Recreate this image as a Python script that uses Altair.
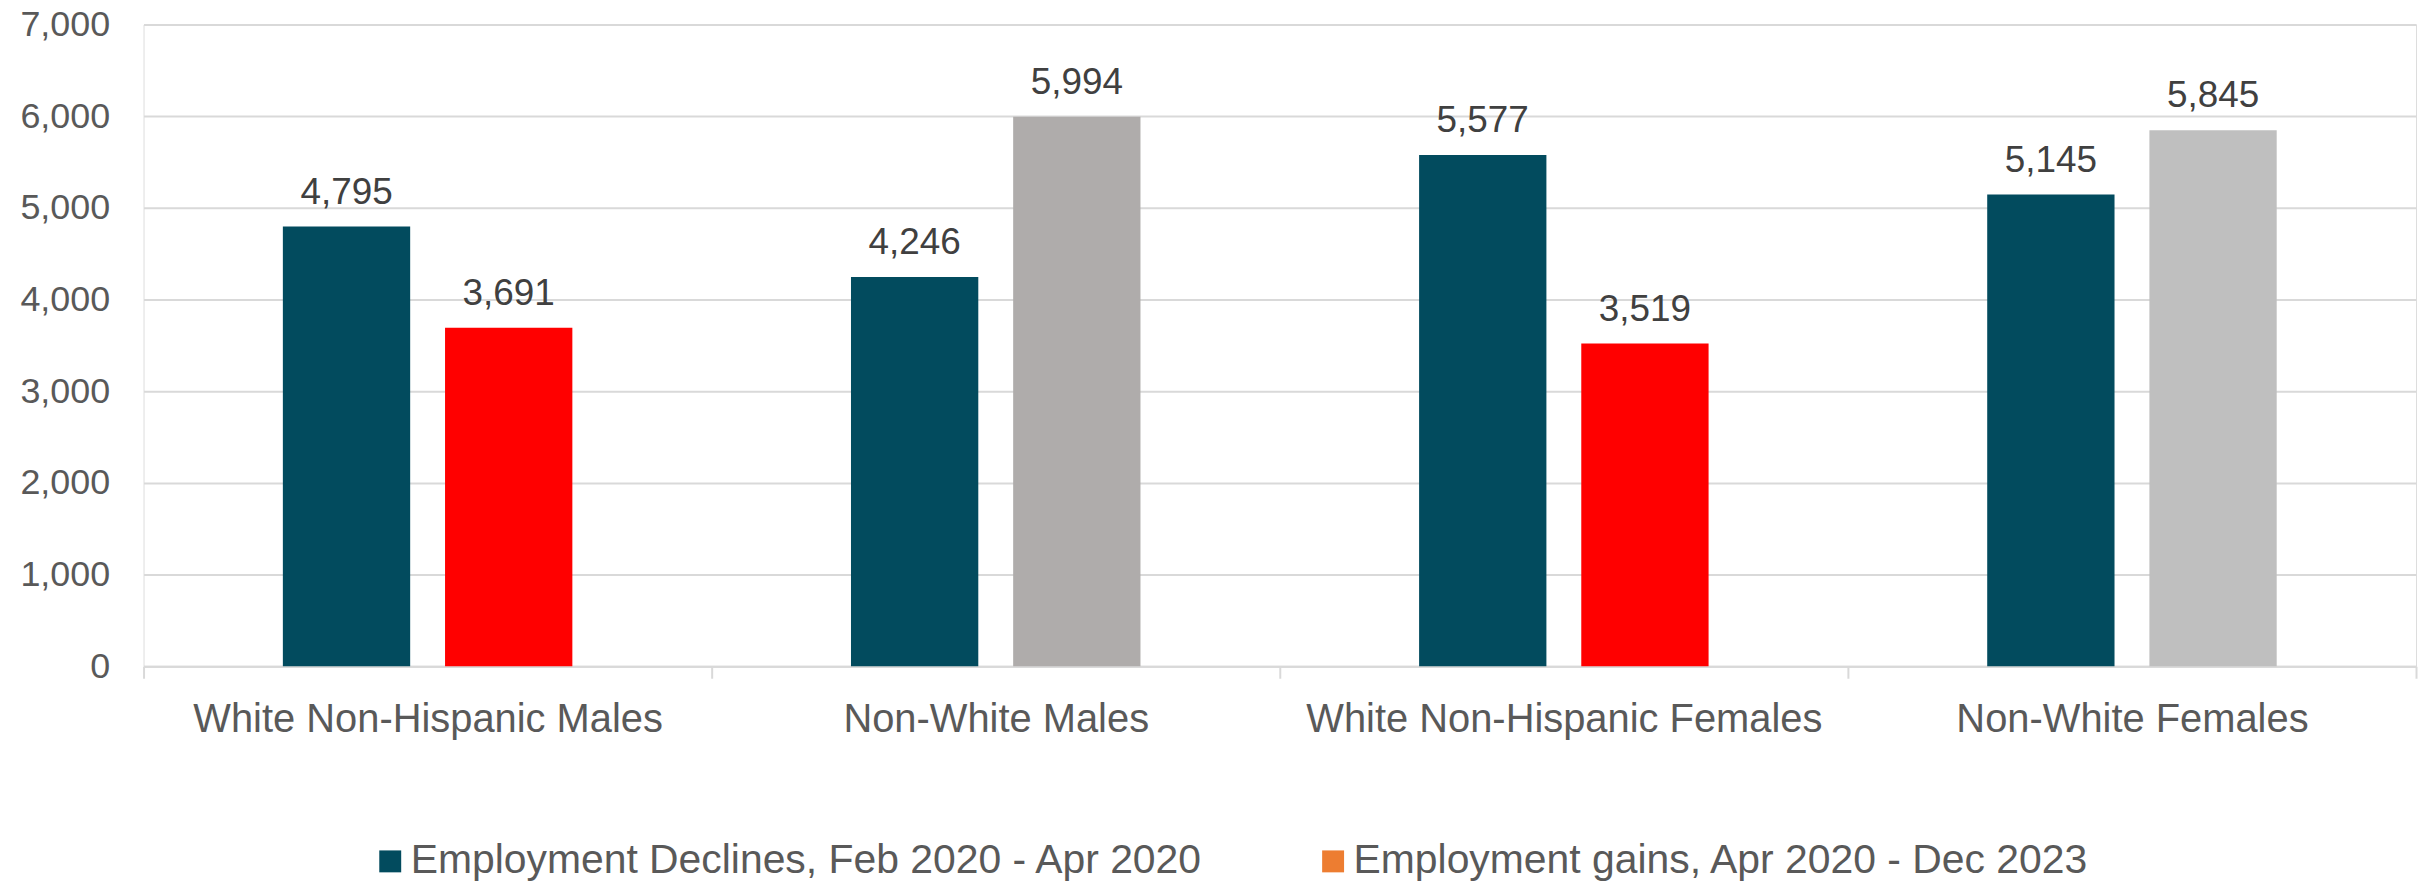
import altair as alt
import pandas as pd

categories = ["White Non-Hispanic Males", "Non-White Males",
              "White Non-Hispanic Females", "Non-White Females"]
declines = [4795, 4246, 5577, 5145]
gains = [3691, 5994, 3519, 5845]
series_names = ["Employment Declines, Feb 2020 - Apr 2020",
                "Employment gains, Apr 2020 - Dec 2023"]
series_colors = ["#024B5E", "#ED7D31"]
decline_bar_colors = ["#024B5E", "#024B5E", "#024B5E", "#024B5E"]
gain_bar_colors = ["#FF0000", "#AFACAB", "#FF0000", "#BFBFBF"]
y_ticks = [0, 1000, 2000, 3000, 4000, 5000, 6000, 7000]

rows = []
for i, c in enumerate(categories):
    rows.append(dict(category=c, series=series_names[0], value=declines[i],
                     bar_color=decline_bar_colors[i]))
    rows.append(dict(category=c, series=series_names[1], value=gains[i],
                     bar_color=gain_bar_colors[i]))
df = pd.DataFrame(rows)

FONT = "Liberation Sans"
GRID = "#D9D9D9"

x_enc = alt.X(
    "category:N", sort=categories,
    scale=alt.Scale(paddingInner=0, paddingOuter=0),
    axis=alt.Axis(title=None, labelAngle=0, tickBand="extent", grid=False,
                  domainColor=GRID, domainWidth=2, tickColor=GRID, tickWidth=2,
                  tickSize=12, labelFont=FONT, labelFontSize=40,
                  labelColor="#595959", labelBaseline="alphabetic",
                  labelPadding=53, labelLimit=1000),
)
xoff_enc = alt.XOffset(
    "series:N", sort=series_names,
    scale=alt.Scale(paddingInner=0.215, paddingOuter=0.859),
)
y_enc = alt.Y(
    "value:Q",
    scale=alt.Scale(domain=[0, 7000], nice=False),
    axis=alt.Axis(title=None, values=y_ticks, format=",.0f", domain=False,
                  ticks=False, grid=True, gridColor=GRID, gridWidth=2,
                  labelFont=FONT, labelFontSize=36, labelColor="#595959",
                  labelPadding=34),
)

legend_layer = alt.Chart(df).mark_bar(opacity=0).encode(
    x=x_enc, xOffset=xoff_enc, y=y_enc,
    color=alt.Color(
        "series:N", sort=series_names,
        scale=alt.Scale(domain=series_names, range=series_colors),
        legend=alt.Legend(
            title=None, orient="none", direction="horizontal", columns=2,
            legendX=227, legendY=819, symbolType="square", symbolSize=484,
            symbolStrokeWidth=0, symbolOpacity=1, labelFont=FONT,
            labelFontSize=41, labelColor="#595959", labelLimit=1200,
            labelOffset=0, columnPadding=109, padding=0,
        ),
    ),
)

bars = alt.Chart(df).mark_bar().encode(
    x=x_enc, xOffset=xoff_enc, y=y_enc,
    fill=alt.Fill("bar_color:N", scale=None),
)

labels = alt.Chart(df).mark_text(
    baseline="alphabetic", dy=-23, fontSize=37, color="#404040", font=FONT
).encode(
    x=x_enc, xOffset=xoff_enc, y=y_enc,
    text=alt.Text("value:Q", format=","),
)

chart = alt.layer(legend_layer, bars, labels).properties(
    width=2280, height=644,
    autosize=alt.AutoSizeParams(type="none"),
    padding={"left": 136, "top": 15, "right": 4, "bottom": 222},
).configure_view(stroke=None).configure(background="white")

chart.save("out.html", embed_options={"renderer": "svg", "actions": False})
